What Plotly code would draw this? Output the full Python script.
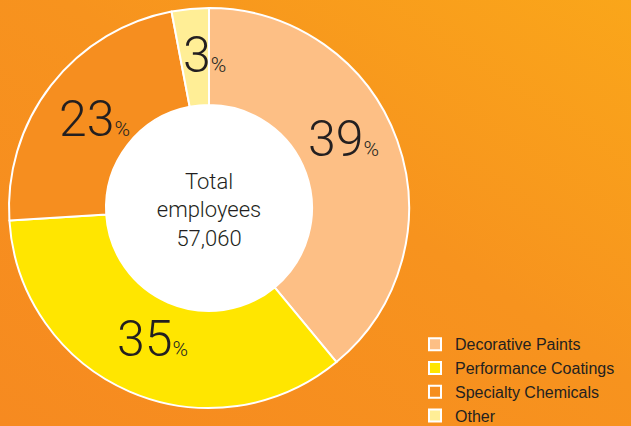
import base64
import math
import plotly.graph_objects as go

# ---- data ----
categories = ["Decorative Paints", "Performance Coatings", "Specialty Chemicals", "Other"]
shares = [39, 35, 23, 3]
center_lines = ["Total", "employees", "57,060"]

# ---- style ----
colors = ["#FDBF85", "#FFE600", "#F68E1F", "#FFEE96"]
text_color = "#231F20"
font_family = "Roboto, Liberation Sans, Arial, sans-serif"
W, H = 631, 426
cx, cy, R = 209, 208, 200          # pie centre / radius in px
hole_r = 103
label_r = 147
label_nudge = [(-4, -19), (2, -4), (2, 1), (9, -7)]   # px fine-tuning of label placement

# gradient background as inline svg
svg = f"""<svg xmlns='http://www.w3.org/2000/svg' width='{W}' height='{H}'>
<defs><linearGradient id='g' x1='0' y1='1' x2='1' y2='0'>
<stop offset='0' stop-color='#F68A20'/><stop offset='0.55' stop-color='#F7931E'/>
<stop offset='1' stop-color='#FAA61A'/></linearGradient></defs>
<rect width='{W}' height='{H}' fill='url(#g)'/></svg>"""
bg_src = "data:image/svg+xml;base64," + base64.b64encode(svg.encode()).decode()


def px_dom(x0, x1, y0, y1):
    return dict(x=[x0 / W, x1 / W], y=[1 - y1 / H, 1 - y0 / H])


fig = go.Figure()

# white centre disc
fig.add_trace(go.Pie(
    values=[1], labels=["centre"], marker=dict(colors=["white"], line=dict(width=0)),
    domain=px_dom(cx - hole_r, cx + hole_r, cy - hole_r, cy + hole_r),
    textinfo="none", hoverinfo="skip", showlegend=False, sort=False,
))

fig.add_trace(go.Pie(
    labels=categories, values=shares, sort=False, direction="clockwise", rotation=0,
    hole=hole_r / R,
    marker=dict(colors=colors, line=dict(color="white", width=2)),
    textinfo="none", hoverinfo="label+percent",
    domain=px_dom(cx - R, cx + R, cy - R, cy + R),
    title=dict(text="<br>".join(center_lines), position="middle center",
               font=dict(size=22, color=text_color, family=font_family, weight=300)),
))

# percentage labels at mid-angles of the slices
total = sum(shares)
cum = 0
annotations = []
for v, (nx, ny) in zip(shares, label_nudge):
    theta = 2 * math.pi * (cum + v / 2) / total
    cum += v
    x = cx + label_r * math.sin(theta) + nx
    y = cy - label_r * math.cos(theta) + ny
    annotations.append(dict(
        x=x / W, y=1 - y / H, xref="paper", yref="paper", showarrow=False,
        xanchor="center", yanchor="middle",
        text=f"{v}<span style='font-size:21px'>%</span>",
        font=dict(size=50, color=text_color, family=font_family, weight=300),
    ))

fig.update_layout(
    width=W, height=H, margin=dict(l=0, r=0, t=0, b=0, autoexpand=False),
    paper_bgcolor="#F7931E", plot_bgcolor="rgba(0,0,0,0)",
    images=[dict(source=bg_src, xref="paper", yref="paper", x=0, y=1, sizex=1, sizey=1,
                 xanchor="left", yanchor="top", sizing="stretch", layer="below")],
    annotations=annotations,
    legend=dict(x=415 / W, y=-0.017, xanchor="left", yanchor="bottom", bgcolor="rgba(0,0,0,0)",
                font=dict(size=16, color=text_color, family="Liberation Sans, Arial, sans-serif"),
                tracegroupgap=0),
    showlegend=True,
)

fig.write_html("out.html", config={"displayModeBar": False},
               post_script="document.body.style.margin='0';")
